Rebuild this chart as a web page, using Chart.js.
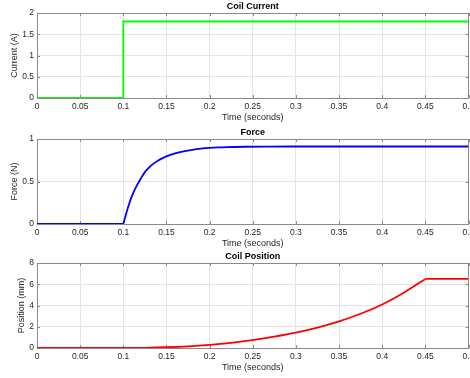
<!DOCTYPE html>
<html>
<head>
<meta charset="utf-8">
<script src="https://cdn.jsdelivr.net/npm/chart.js@4"></script>
<style>
  body { margin: 0; background: #fff; overflow: hidden; width: 470px; height: 378px; position: relative; }
  .box { position: absolute; left: 0; width: 470px; height: 124px; }
</style>
</head>
<body>
<div class="box" style="top:0"><canvas id="currentChart"></canvas></div>
<div class="box" style="top:126px"><canvas id="forceChart"></canvas></div>
<div class="box" style="top:250px"><canvas id="positionChart"></canvas></div>
<script>
// time axis, seconds
var timeMin = 0;
var timeMax = 0.5;
var timeStep = 0.05;

// coil current (A)
var currentTime = [0, 0.1, 0.1, 0.5];
var currentAmps = [0, 0, 1.8, 1.8];

// force (N)
var forceTime = [0, 0.1, 0.105, 0.11, 0.115, 0.12, 0.125, 0.13, 0.135, 0.14, 0.15, 0.16, 0.17, 0.18, 0.19, 0.2, 0.21, 0.22, 0.24, 0.27, 0.3, 0.4, 0.5];
var forceNewtons = [0, 0, 0.18, 0.33, 0.44, 0.53, 0.61, 0.665, 0.71, 0.745, 0.795, 0.83, 0.855, 0.873, 0.886, 0.895, 0.901, 0.905, 0.909, 0.911, 0.912, 0.912, 0.912];

// coil position (mm)
var positionTime = [0, 0.1, 0.125, 0.15, 0.175, 0.2, 0.225, 0.25, 0.275, 0.3, 0.325, 0.35, 0.375, 0.4, 0.425, 0.45, 0.5];
var positionMm = [0, 0, 0.02, 0.07, 0.16, 0.3, 0.49, 0.74, 1.07, 1.45, 1.92, 2.5, 3.22, 4.1, 5.2, 6.5, 6.5];

Chart.defaults.font.family = '"Liberation Sans", Arial, Helvetica, sans-serif';
Chart.defaults.color = "#262626";

var axisGray = "#8a8a8a";
var gridGray = "#e4e4e4";

// matlab style: box on, ticks pointing inward, bold title over the plot area
var matlabBox = {
  id: "matlabBox",
  beforeDatasetsDraw: function (chart) {
    var a = chart.chartArea;
    var ctx = chart.ctx;
    ctx.save();
    ctx.strokeStyle = axisGray;
    ctx.lineWidth = 1;
    ctx.beginPath();
    chart.scales.x.ticks.forEach(function (t) {
      var px = Math.round(chart.scales.x.getPixelForValue(t.value)) + 0.5;
      ctx.moveTo(px, a.bottom); ctx.lineTo(px, a.bottom - 3);
      ctx.moveTo(px, a.top); ctx.lineTo(px, a.top + 3);
    });
    chart.scales.y.ticks.forEach(function (t) {
      var py = Math.round(chart.scales.y.getPixelForValue(t.value)) + 0.5;
      ctx.moveTo(a.left, py); ctx.lineTo(a.left + 3, py);
      ctx.moveTo(a.right, py); ctx.lineTo(a.right - 3, py);
    });
    ctx.moveTo(a.left, Math.round(a.top) + 0.5); ctx.lineTo(a.right, Math.round(a.top) + 0.5);
    ctx.moveTo(Math.round(a.right) - 0.5, a.top); ctx.lineTo(Math.round(a.right) - 0.5, a.bottom);
    ctx.stroke();
    ctx.restore();
  },
  afterDraw: function (chart, args, opts) {
    var a = chart.chartArea;
    var ctx = chart.ctx;
    ctx.save();
    ctx.fillStyle = "#000";
    ctx.font = "bold 9px " + Chart.defaults.font.family;
    ctx.textAlign = "center";
    ctx.textBaseline = "middle";
    ctx.fillText(opts.title, (a.left + a.right) / 2, a.top - 6.5);
    ctx.restore();
  },
};

function lineSets(times, values, corner, color) {
  var pts = times.map(function (t, i) { return { x: t, y: values[i] }; });
  var k = corner == null ? -1 : times.indexOf(corner);
  var parts = k > 0 ? [pts.slice(0, k + 1), pts.slice(k)] : [pts];
  return parts.map(function (p) {
    return {
      data: p,
      borderColor: color,
      borderWidth: 1.8,
      pointRadius: 0,
      fill: false,
      cubicInterpolationMode: corner == null ? "default" : "monotone",
      tension: 0,
    };
  });
}

function makeChart(id, title, datasets, yLabel, yMax, yStep, yTitlePad) {
  return new Chart(document.getElementById(id), {
    type: "line",
    data: { datasets: datasets },
    plugins: [matlabBox],
    options: {
      responsive: true,
      maintainAspectRatio: false,
      animation: false,
      layout: { padding: { top: 13, right: 1.5, bottom: 0, left: 0 } },
      plugins: {
        legend: { display: false },
        tooltip: { enabled: false },
        matlabBox: { title: title },
      },
      scales: {
        x: {
          type: "linear",
          min: timeMin,
          max: timeMax,
          ticks: {
            stepSize: timeStep,
            autoSkip: false,
            maxRotation: 0,
            padding: 4,
            font: { size: 8.5 },
            callback: function (v) { return String(+v.toFixed(2)); },
          },
          grid: { color: gridGray, drawTicks: false },
          border: { color: axisGray },
          title: { display: true, text: "Time (seconds)", font: { size: 9 }, padding: { top: 0, bottom: 1 } },
          afterFit: function (s) { s.height = 26; s.paddingLeft = 0; s.paddingRight = 0; },
        },
        y: {
          min: 0,
          max: yMax,
          ticks: {
            stepSize: yStep,
            padding: 3,
            font: { size: 8.5 },
            callback: function (v) { return String(+v.toFixed(2)); },
          },
          grid: { color: gridGray, drawTicks: false },
          border: { color: axisGray },
          title: { display: true, text: yLabel, font: { size: 9 }, padding: { top: yTitlePad, bottom: 0 } },
          afterFit: function (s) { s.width = 37; s.paddingTop = 0; s.paddingBottom = 0; },
        },
      },
    },
  });
}

makeChart("currentChart", "Coil Current", lineSets(currentTime, currentAmps, null, "#00ff00"), "Current (A)", 2, 0.5, 9.5);
makeChart("forceChart", "Force", lineSets(forceTime, forceNewtons, 0.1, "#0000ff"), "Force (N)", 1, 0.5, 9.5);
makeChart("positionChart", "Coil Position", lineSets(positionTime, positionMm, 0.45, "#ff0000"), "Position (mm)", 8, 2, 16.5);
</script>
</body>
</html>
